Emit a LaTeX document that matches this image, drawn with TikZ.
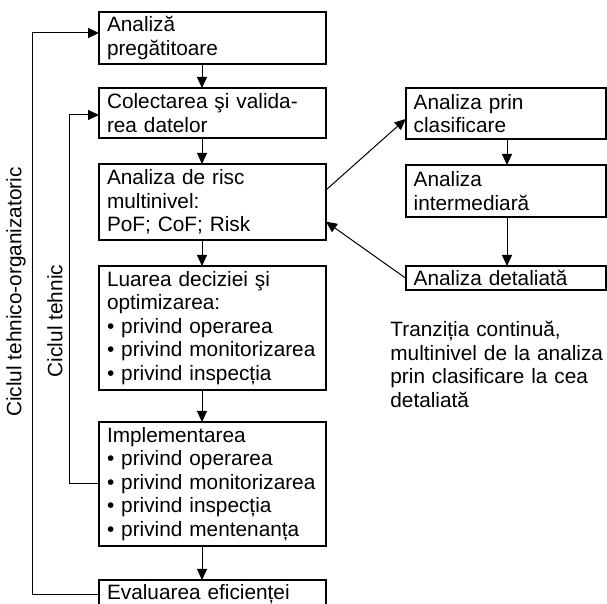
\documentclass[tikz,border=0pt]{standalone}
\usepackage{fontspec}
\setmainfont{Liberation Sans}
\usetikzlibrary{arrows.meta}

\begin{document}
\begin{tikzpicture}[x=0.5pt,y=-0.5pt,
    box/.style={draw, line width=1pt, anchor=north west, outer sep=0pt,
        inner xsep=4pt, inner ysep=2.2pt, text width=105.5pt, align=left,
        font=\fontsize{10.4}{11.75}\selectfont},
    rbox/.style={box, text width=92pt},
    arr/.style={-{Triangle[length=5.5pt,width=5pt]}, line width=0.5pt},
    cycle/.style={rotate=90, font=\fontsize{10.4}{11.75}\selectfont}]
    \useasboundingbox (0,0) rectangle (607,604);
    \coordinate (spine) at (202,0);
    \coordinate (rspine) at (507,0);
    \coordinate (outer) at (32,33);
    \coordinate (inner) at (69,115);

    \node[box, minimum height=25.5pt] (prep) at (99,12) {Analiză\\pregătitoare};
    \node[box, minimum height=25pt] (colect) at (99,88) {Colectarea şi valida-\\rea datelor};
    \node[box, minimum height=38pt] (risc) at (99,164) {Analiza de risc\\multinivel:\\PoF; CoF; Risk};
    \node[box, minimum height=62pt] (decizie) at (99,266) {Luarea deciziei şi\\optimizarea:\\• privind operarea\\• privind monitorizarea\\• privind inspecția};
    \node[box, minimum height=62pt] (impl) at (99,422) {Implementarea\\• privind operarea\\• privind monitorizarea\\• privind inspecția\\• privind mentenanța};
    \node[box] (eval) at (99,580) {Evaluarea eficienței};

    \node[rbox, minimum height=25.5pt] (clasif) at (405.7,88) {Analiza prin\\clasificare};
    \node[rbox, minimum height=26pt] (interm) at (405.7,165) {Analiza\\intermediară};
    \node[rbox, minimum height=12pt] (detal) at (405.7,266) {Analiza detaliată};

    \node[anchor=north west, inner sep=0pt, text width=112pt, align=left,
        font=\fontsize{10.4}{11.75}\selectfont] (nota) at (390,321)
        {Tranziția continuă,\\multinivel de la analiza\\prin clasificare la cea\\detaliată};

    \draw[arr] (prep.south -| spine) -- (colect.north -| spine);
    \draw[arr] (colect.south -| spine) -- (risc.north -| spine);
    \draw[arr] (risc.south -| spine) -- (decizie.north -| spine);
    \draw[arr] (decizie.south -| spine) -- (impl.north -| spine);
    \draw[arr] (impl.south -| spine) -- (eval.north -| spine);

    \draw[arr] (clasif.south -| rspine) -- (interm.north -| rspine);
    \draw[arr] (interm.south -| rspine) -- (detal.north -| rspine);
    \draw[arr] ([yshift=6pt]risc.east) -- ([yshift=-2.75pt]clasif.west);
    \draw[arr] (detal.west) -- ([yshift=-9.85pt]risc.east);

    \draw[arr] (eval.west) -| (outer) -- (outer -| prep.west);
    \draw[arr] (impl.west) -| (inner) -- (inner -| colect.west);
    \node[cycle] (ciclu1) at (16,292) {Ciclul tehnico-organizatoric};
    \node[cycle] (ciclu2) at (55,321) {Ciclul tehnic};
\end{tikzpicture}
\end{document}
